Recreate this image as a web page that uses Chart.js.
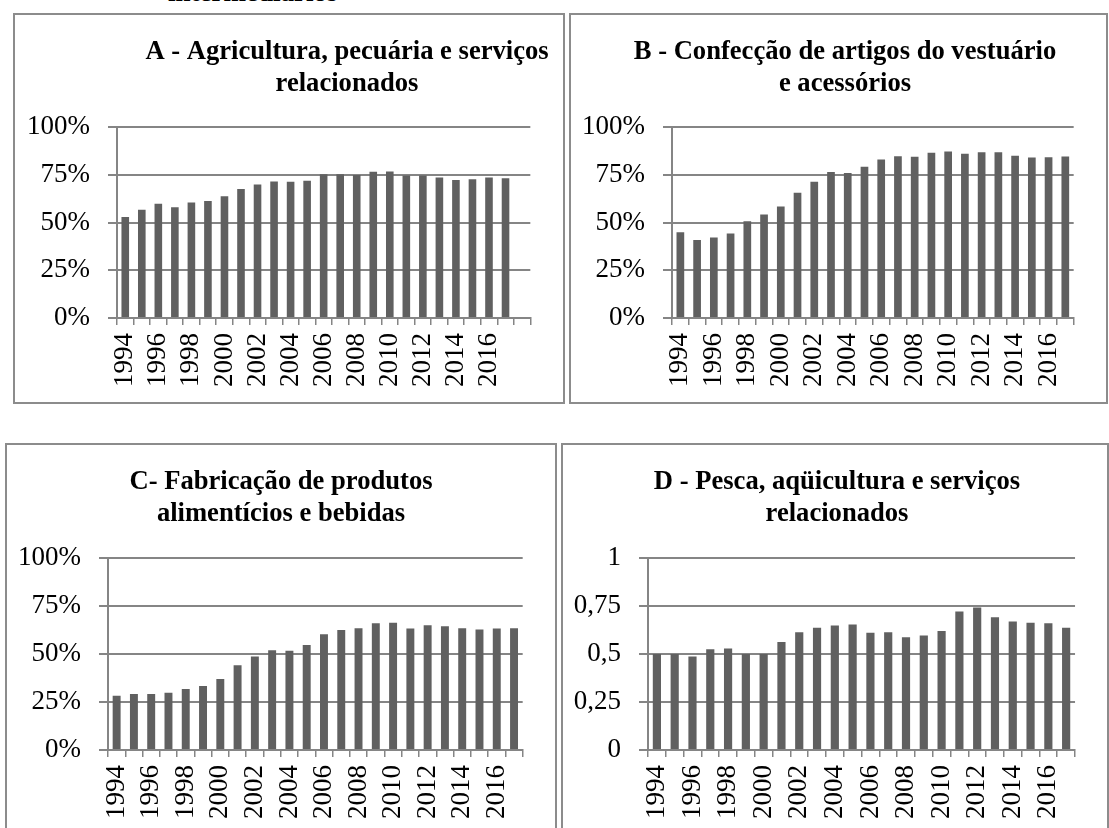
<!DOCTYPE html>
<html lang="pt">
<head>
<meta charset="utf-8">
<script src="https://cdn.jsdelivr.net/npm/chart.js@4.4.1/dist/chart.umd.min.js"></script>
<style>
  body { margin: 0; width: 1109px; height: 828px; overflow: hidden; background: #fff; position: relative;
         font-family: 'Liberation Serif', 'Times New Roman', serif; }
  .caption { position: absolute; left: 168px; top: -21px; font-size: 27px; font-weight: bold; line-height: 1; color: #000; }
  .panel { position: absolute; border: 2px solid #8c8c8c; background: #fff; }
  .panel canvas { display: block; }
</style>
</head>
<body>
<div class="caption">intermediários</div>
<div class="panel" style="left:13px;top:13px;"><canvas id="chartA" width="548" height="387"></canvas></div>
<div class="panel" style="left:569px;top:13px;"><canvas id="chartB" width="535" height="387"></canvas></div>
<div class="panel" style="left:5px;top:443px;"><canvas id="chartC" width="548" height="400"></canvas></div>
<div class="panel" style="left:561px;top:443px;"><canvas id="chartD" width="544" height="400"></canvas></div>

<script>
// categories
const years = ['1994', '1995', '1996', '1997', '1998', '1999', '2000', '2001', '2002', '2003', '2004', '2005',
               '2006', '2007', '2008', '2009', '2010', '2011', '2012', '2013', '2014', '2015', '2016', '2017'];
// panel A has one extra empty slot at the end
const yearsA = years.concat(['']);

// series (share, 0..1)
const agropecuaria = [0.530, 0.568, 0.599, 0.580, 0.606, 0.613, 0.638, 0.676, 0.700, 0.716, 0.714, 0.720,
                      0.753, 0.753, 0.749, 0.767, 0.768, 0.747, 0.747, 0.737, 0.723, 0.728, 0.737, 0.732, null];
const vestuario = [0.449, 0.409, 0.422, 0.443, 0.507, 0.542, 0.584, 0.657, 0.714, 0.765, 0.760, 0.793,
                   0.831, 0.848, 0.845, 0.866, 0.873, 0.861, 0.869, 0.869, 0.850, 0.841, 0.843, 0.846];
const alimentos = [0.283, 0.292, 0.292, 0.299, 0.318, 0.334, 0.370, 0.442, 0.487, 0.520, 0.517, 0.548,
                   0.603, 0.626, 0.635, 0.661, 0.664, 0.633, 0.650, 0.645, 0.635, 0.628, 0.633, 0.635];
const pesca = [0.501, 0.500, 0.487, 0.525, 0.529, 0.500, 0.500, 0.563, 0.614, 0.638, 0.649, 0.654,
               0.612, 0.614, 0.588, 0.597, 0.621, 0.722, 0.743, 0.692, 0.670, 0.664, 0.661, 0.637];

// tick labels
const pctTicks = ['0%', '25%', '50%', '75%', '100%'];
const decTicks = ['0', '0,25', '0,5', '0,75', '1'];

// titles
const titleA = ['A - Agricultura, pecuária e serviços', 'relacionados'];
const titleB = ['B - Confecção de artigos do vestuário', 'e acessórios'];
const titleC = ['C- Fabricação de produtos', 'alimentícios e bebidas'];
const titleD = ['D - Pesca, aqüicultura e serviços', 'relacionados'];

const FONT = "'Liberation Serif', 'Times New Roman', serif";
const GRID = '#858585';
const BAR = '#606060';

// moves the title block so its centre sits at a given x
const titlePlace = {
    id: 'titlePlace',
    afterLayout(chart, args, opts) {
        const t = chart.titleBlock;
        if (!t || opts.center == null) return;
        const half = (t.right - t.left) / 2;
        t.left = opts.center - half;
        t.right = opts.center + half;
    }
};

function drawPanel(id, labels, values, yTicks, title, lay) {
    const ctx = document.getElementById(id).getContext('2d');
    return new Chart(ctx, {
        type: 'bar',
        data: {
            labels: labels,
            datasets: [{
                data: values,
                backgroundColor: BAR,
                borderWidth: 0,
                barPercentage: 0.46,
                categoryPercentage: 1
            }]
        },
        plugins: [titlePlace],
        options: {
            responsive: false,
            animation: false,
            devicePixelRatio: 1,
            layout: { padding: { left: 0, right: lay.padRight, top: 0, bottom: 0 } },
            plugins: {
                legend: { display: false },
                tooltip: { enabled: false },
                titlePlace: { center: lay.titleX },
                title: {
                    display: true,
                    text: title,
                    color: '#000',
                    font: { family: FONT, size: 26.6, weight: 'bold', lineHeight: 1.17 },
                    padding: { top: lay.titleTop, bottom: lay.titleBottom }
                }
            },
            scales: {
                x: {
                    afterFit: s => { s.height = lay.xHeight; },
                    grid: { drawOnChartArea: false, drawTicks: true, tickLength: 7, color: GRID, lineWidth: 1.5 },
                    border: { display: true, color: GRID, width: 2 },
                    ticks: {
                        color: '#000',
                        font: { family: FONT, size: 27 },
                        autoSkip: false,
                        minRotation: 90,
                        maxRotation: 90,
                        padding: 8,
                        callback: function(value, index) {
                            return index % 2 === 0 ? labels[index] : '';
                        }
                    }
                },
                y: {
                    min: 0,
                    max: 1,
                    afterFit: s => { s.width = lay.yWidth; },
                    grid: { color: GRID, lineWidth: 2, tickLength: 9 },
                    border: { display: true, color: GRID, width: 2 },
                    ticks: {
                        stepSize: 0.25,
                        color: '#000',
                        font: { family: FONT, size: 27 },
                        padding: 18,
                        callback: function(value) {
                            return yTicks[Math.round(value * 4)];
                        }
                    }
                }
            }
        }
    });
}

drawPanel('chartA', yearsA, agropecuaria, pctTicks, titleA,
    { yWidth: 102, xHeight: 84, padRight: 27, titleTop: 22, titleBottom: 28, titleX: 332 });
drawPanel('chartB', years, vestuario, pctTicks, titleB,
    { yWidth: 101, xHeight: 84, padRight: 14, titleTop: 22, titleBottom: 28, titleX: 274 });
drawPanel('chartC', years, alimentos, pctTicks, titleC,
    { yWidth: 101, xHeight: 95, padRight: 27, titleTop: 22, titleBottom: 29, titleX: 274 });
drawPanel('chartD', years, pesca, decTicks, titleD,
    { yWidth: 85, xHeight: 95, padRight: 22, titleTop: 22, titleBottom: 29, titleX: 274 });
</script>
</body>
</html>
